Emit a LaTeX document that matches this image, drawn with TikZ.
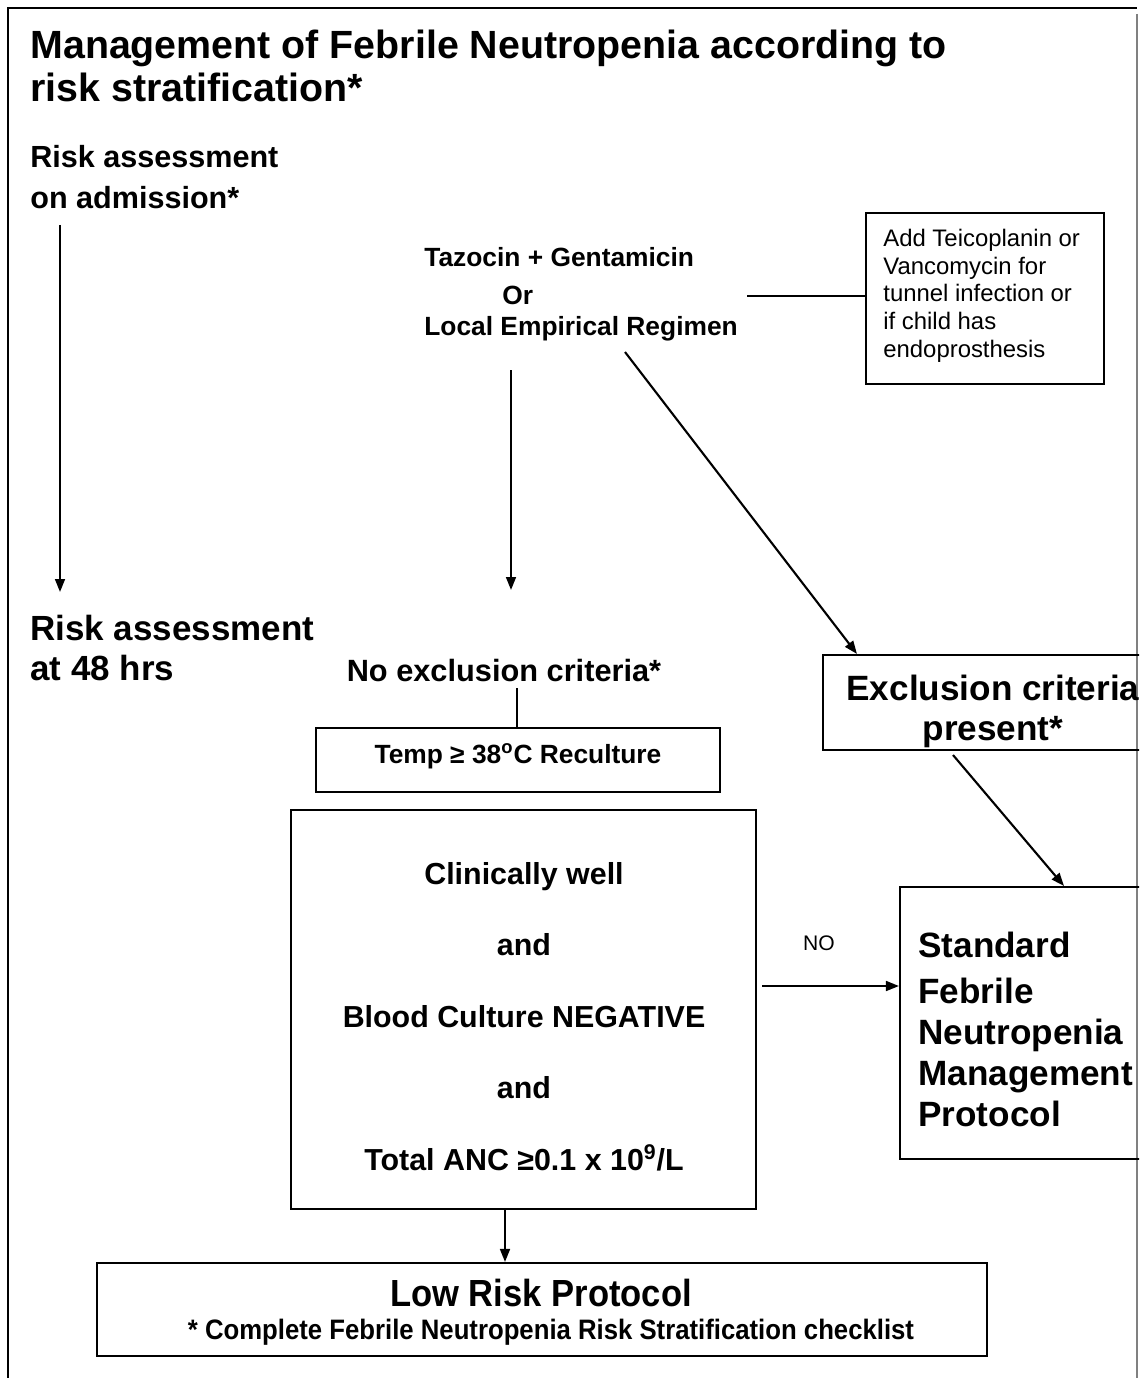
\documentclass[tikz,border=0pt]{standalone}
\usepackage{fontspec}
\setmainfont{Liberation Sans}
\newfontfamily\narrowfont{Liberation Sans}[FakeStretch=0.915]
\usetikzlibrary{arrows.meta,calc}
\begin{document}
\begin{tikzpicture}[x=0.02cm,y=-0.02cm,
  box/.style={draw,line width=1.2pt,inner sep=0pt},
  arr/.style={line width=1.2pt,-{Triangle[length=7.4pt,width=5.6pt]}},
  ln/.style={line width=1.2pt},
  lbl/.style={inner sep=0pt,anchor=base west},
  ctr/.style={inner sep=0pt,anchor=base}]
\useasboundingbox (0,0) rectangle (1139,1378);
\clip (0,0) rectangle (1139,1378);
% frame
\draw[line width=1.3pt] (8,1378) -- (8,8) -- (1137,8);
\draw[line width=0.8pt,gray] (1137,14) -- (1137,1378);
% free texts
\node[lbl,font=\bfseries\fontsize{22.4}{26}\selectfont] (title1) at (30,59) {Management of Febrile Neutropenia according to};
\node[lbl,font=\bfseries\fontsize{22.4}{26}\selectfont] (title2) at (30,102) {risk stratification*};
\node[lbl,font=\bfseries\fontsize{17.4}{20}\selectfont] (adm1) at (30,168) {Risk assessment};
\node[lbl,font=\bfseries\fontsize{17.4}{20}\selectfont] (adm2) at (30,209) {on admission*};
\node[lbl,font=\bfseries\fontsize{19.9}{23}\selectfont] (r48a) at (30,640) {Risk assessment};
\node[lbl,font=\bfseries\fontsize{19.9}{23}\selectfont] (r48b) at (30,680) {at 48 hrs};
\node[lbl,font=\bfseries\fontsize{15}{18}\selectfont] (taz1) at (424,267) {Tazocin + Gentamicin};
\node[lbl,font=\bfseries\fontsize{15}{18}\selectfont] (taz2) at (502,304) {Or};
\node[lbl,font=\bfseries\fontsize{15}{18}\selectfont] (taz3) at (424,336) {Local Empirical Regimen};
\node[ctr,font=\bfseries\fontsize{17.5}{20}\selectfont] (noexcl) at (504,681) {No exclusion criteria*};
\node[ctr,font=\fontsize{12}{14}\selectfont] (no) at (819,950) {NO};
% boxes
\node[box,minimum width=4.76cm,minimum height=3.42cm] (addbox) at (985,298.5) {};
\node[box,minimum width=8.08cm,minimum height=1.28cm] (temp) at (518,760) {};
\node[box,minimum width=6.72cm,minimum height=1.9cm] (excl) at (991,702.5) {};
\node[box,minimum width=9.3cm,minimum height=7.98cm] (big) at (523.5,1009.5) {};
\node[box,minimum width=5.2cm,minimum height=5.44cm] (std) at (1030,1023) {};
\node[box,minimum width=17.8cm,minimum height=1.86cm] (low) at (542,1309.5) {};
% box texts
\node[inner sep=0pt,anchor=north west,align=left,font=\fontsize{13.6}{15.9}\selectfont] (addtxt) at (883,228.4)
  {Add Teicoplanin or\\Vancomycin for\\tunnel infection or\\if child has\\endoprosthesis};
\node[ctr,font=\bfseries\fontsize{15}{18}\selectfont] (temptxt) at (518,763)
  {Temp ≥ 38\textsuperscript{o}C Reculture};
\node[inner sep=0pt,anchor=north,align=center,font=\bfseries\fontsize{20}{22.7}\selectfont] (excltxt) at (993,674.4)
  {Exclusion criteria\\present*};
\node[inner sep=0pt,anchor=north,align=center,font=\bfseries\fontsize{17.3}{40.7}\selectfont] (bigtxt) at (524,862)
  {Clinically well\\and\\Blood Culture NEGATIVE\\and\\Total ANC ≥0.1 x 10\textsuperscript{9}/L};
\node[inner sep=0pt,anchor=north west,align=left,font=\bfseries\fontsize{20}{23.2}\selectfont] (stdtxt) at (918,931.4)
  {Standard\\[3.4pt]Febrile\\Neutropenia\\Management\\Protocol};
\node[ctr,font=\narrowfont\bfseries\fontsize{21.5}{24}\selectfont] (low1) at (541,1306) {Low Risk Protocol};
\node[ctr,font=\narrowfont\bfseries\fontsize{16}{18}\selectfont] (low2) at (551,1339)
  {* Complete Febrile Neutropenia Risk Stratification checklist};
% connectors
\coordinate (a1s) at (60,225);
\coordinate (a1e) at (60,592);
\draw[arr] (a1s) -- (a1e);
\coordinate (a2s) at (511,370);
\coordinate (a2e) at (511,590);
\draw[arr] (a2s) -- (a2e);
\coordinate (a3s) at (625,352);
\draw[arr] (a3s) -- ($(excl.north west)+(35,0)$);
\coordinate (l1s) at (747,296);
\draw[ln] (l1s) -- (l1s -| addbox.west);
\coordinate (l2s) at (517,688);
\draw[ln] (l2s) -- (l2s |- temp.north);
\coordinate (a4s) at (953,755);
\draw[arr] (a4s) -- ($(std.north west)+(165,0)$);
\coordinate (a5s) at (762,986);
\draw[arr] (a5s) -- (a5s -| std.west);
\coordinate (a6x) at (505,0);
\draw[arr] (big.south -| a6x) -- (low.north -| a6x);
\end{tikzpicture}
\end{document}
